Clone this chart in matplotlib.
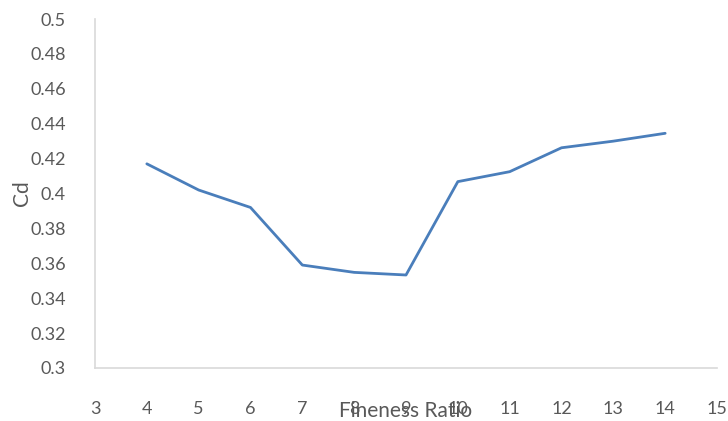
import matplotlib
matplotlib.use("Agg")
import matplotlib.pyplot as plt

fineness_ratio = [4, 5, 6, 7, 8, 9, 10, 11, 12, 13, 14]
cd = [0.417, 0.402, 0.392, 0.359, 0.3548, 0.3533, 0.4068, 0.4125, 0.4262, 0.430, 0.4345]
x_ticks = list(range(3, 16))
y_ticks = [0.3, 0.32, 0.34, 0.36, 0.38, 0.4, 0.42, 0.44, 0.46, 0.48, 0.5]
y_tick_labels = ["0.3", "0.32", "0.34", "0.36", "0.38", "0.4", "0.42", "0.44", "0.46", "0.48", "0.5"]

plt.rcParams['font.family'] = ['Lato', 'DejaVu Sans']
txt = '#595959'

fig = plt.figure(figsize=(7.28, 4.21), dpi=100)
ax = fig.add_axes([95/728, 1 - 368/421, (717-95)/728, (368-19)/421])
ax.plot(fineness_ratio, cd, color='#4a7ebb', linewidth=2.0, solid_capstyle='round')
ax.set_xlim(3, 15)
ax.set_ylim(0.3, 0.5)
ax.set_xticks(x_ticks)
ax.set_yticks(y_ticks)
ax.set_yticklabels(y_tick_labels)
ax.tick_params(length=0, labelsize=13, colors=txt)
ax.tick_params(axis='x', pad=24)
ax.tick_params(axis='y', pad=21)
for s in ['top', 'right']:
    ax.spines[s].set_visible(False)
for s in ['left', 'bottom']:
    ax.spines[s].set_color('#d9d9d9')
    ax.spines[s].set_linewidth(1.2)
fig.text(406/728, 1 - 411/421, 'Fineness Ratio', ha='center', va='center', fontsize=15, color=txt)
fig.text(22/728, 1 - 193/421, 'Cd', ha='center', va='center', fontsize=15, color=txt, rotation=90)
fig.savefig('out.png', dpi=100)
